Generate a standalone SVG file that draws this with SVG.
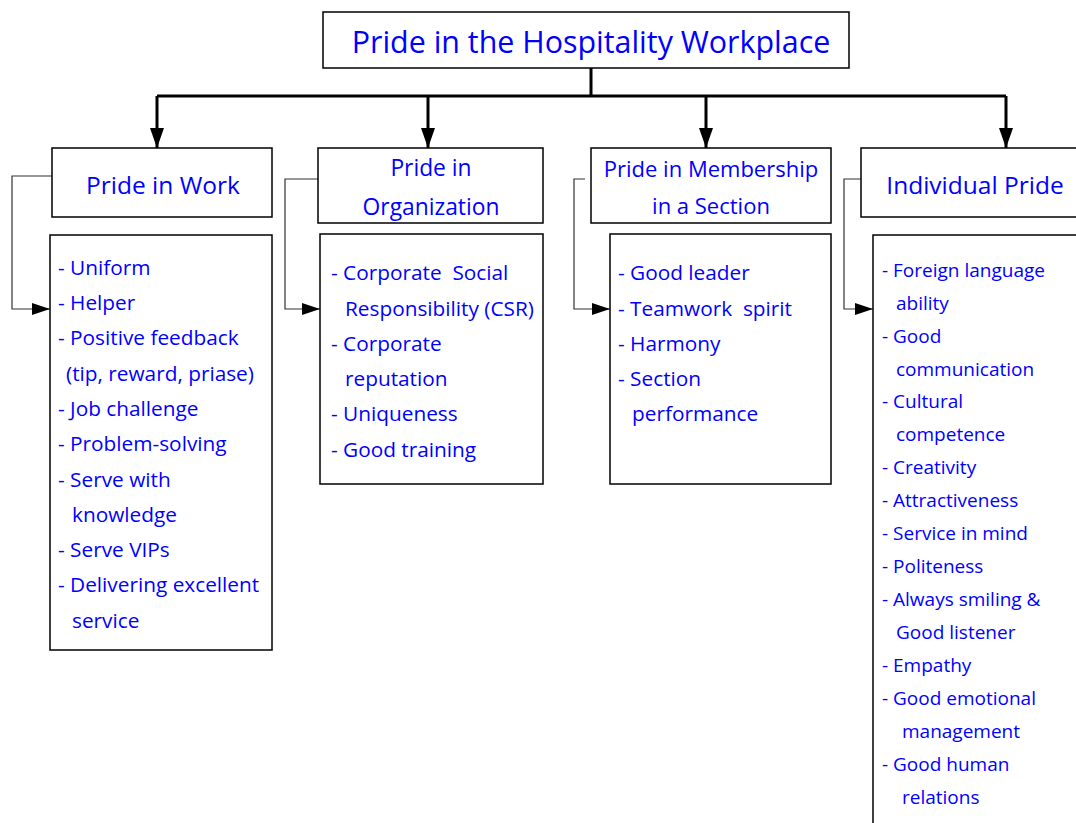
<svg xmlns="http://www.w3.org/2000/svg" width="1076" height="823" viewBox="0 0 1076 823">
<defs>
<marker id="bigArrow" markerUnits="userSpaceOnUse" markerWidth="20" markerHeight="14" refX="20" refY="7" orient="auto"><path d="M0,0 L20,7 L0,14 Z" fill="#000"/></marker>
<marker id="sideArrow" markerUnits="userSpaceOnUse" markerWidth="18" markerHeight="12" refX="18" refY="6" orient="auto"><path d="M0,0 L18,6 L0,12 Z" fill="#000"/></marker>
</defs>
<style>
.box{fill:#fff;stroke:#000;stroke-width:1.5}
.t{font-family:"Open Sans","Noto Sans",sans-serif;fill:#0000ff}
.title{font-size:30.4px}
.hd{font-size:24.5px}
.hd2{font-size:22.8px}
.hd3{font-size:22px}
.li{font-size:20.8px}
.lis{font-size:19px}
.main{stroke:#000;stroke-width:3;fill:none}
.side{stroke:#333;stroke-width:1.2;fill:none}
</style>
<rect width="1076" height="823" fill="#fff"/>
<g id="connectors">
<path class="main" d="M591,68 V97"/>
<path class="main" d="M157,96 H1006"/>
<path class="main" d="M157,96 V148" marker-end="url(#bigArrow)"/>
<path class="main" d="M428,96 V148" marker-end="url(#bigArrow)"/>
<path class="main" d="M706,96 V148" marker-end="url(#bigArrow)"/>
<path class="main" d="M1006,96 V148" marker-end="url(#bigArrow)"/>
<path class="side" d="M52,176 H12 V309 H50" marker-end="url(#sideArrow)"/>
<path class="side" d="M318,179 H285 V309 H320" marker-end="url(#sideArrow)"/>
<path class="side" d="M585,179 H574 V309 H610" marker-end="url(#sideArrow)"/>
<path class="side" d="M861,179 H844 V309 H873" marker-end="url(#sideArrow)"/>
</g>
<g id="root">
<rect class="box" x="323" y="12" width="526" height="56"/>
<text class="t title" x="591" y="53" text-anchor="middle">Pride in the Hospitality Workplace</text>
</g>
<g id="work">
<rect class="box" x="52" y="148" width="220" height="69"/>
<text class="t hd" x="163" y="194" text-anchor="middle">Pride in Work</text>
</g>
<g id="work-list">
<rect class="box" x="50" y="235" width="222" height="415"/>
<text class="t li" x="58" y="275">- Uniform</text>
<text class="t li" x="58" y="310">- Helper</text>
<text class="t li" x="58" y="345">- Positive feedback</text>
<text class="t li" x="66" y="381">(tip, reward, priase)</text>
<text class="t li" x="58" y="416">- Job challenge</text>
<text class="t li" x="58" y="451">- Problem-solving</text>
<text class="t li" x="58" y="487">- Serve with</text>
<text class="t li" x="72" y="522">knowledge</text>
<text class="t li" x="58" y="557">- Serve VIPs</text>
<text class="t li" x="58" y="592">- Delivering excellent</text>
<text class="t li" x="72" y="628">service</text>
</g>
<g id="org">
<rect class="box" x="318" y="148" width="225" height="75"/>
<text class="t hd2" x="431" y="176" text-anchor="middle">Pride in</text>
<text class="t hd2" x="431" y="215" text-anchor="middle">Organization</text>
</g>
<g id="org-list">
<rect class="box" x="320" y="234" width="223" height="250"/>
<text class="t li" x="331" y="280" xml:space="preserve">- Corporate  Social</text>
<text class="t li" x="345" y="316">Responsibility (CSR)</text>
<text class="t li" x="331" y="351">- Corporate</text>
<text class="t li" x="345" y="386">reputation</text>
<text class="t li" x="331" y="421">- Uniqueness</text>
<text class="t li" x="331" y="457">- Good training</text>
</g>
<g id="member">
<rect class="box" x="591" y="148" width="240" height="75"/>
<text class="t hd3" x="711" y="177" text-anchor="middle">Pride in Membership</text>
<text class="t hd3" x="711" y="214" text-anchor="middle">in a Section</text>
</g>
<g id="member-list">
<rect class="box" x="610" y="234" width="221" height="250"/>
<text class="t li" x="618" y="280">- Good leader</text>
<text class="t li" x="618" y="316" xml:space="preserve">- Teamwork  spirit</text>
<text class="t li" x="618" y="351">- Harmony</text>
<text class="t li" x="618" y="386">- Section</text>
<text class="t li" x="632" y="421">performance</text>
</g>
<g id="individual">
<rect class="box" x="861" y="148" width="230" height="69"/>
<text class="t hd" x="975" y="194" text-anchor="middle">Individual Pride</text>
</g>
<g id="individual-list">
<rect class="box" x="873" y="235" width="220" height="620"/>
<text class="t lis" x="882" y="277">- Foreign language</text>
<text class="t lis" x="896" y="310">ability</text>
<text class="t lis" x="882" y="343">- Good</text>
<text class="t lis" x="896" y="376">communication</text>
<text class="t lis" x="882" y="408">- Cultural</text>
<text class="t lis" x="896" y="441">competence</text>
<text class="t lis" x="882" y="474">- Creativity</text>
<text class="t lis" x="882" y="507">- Attractiveness</text>
<text class="t lis" x="882" y="540">- Service in mind</text>
<text class="t lis" x="882" y="573">- Politeness</text>
<text class="t lis" x="882" y="606">- Always smiling &amp;</text>
<text class="t lis" x="896" y="639">Good listener</text>
<text class="t lis" x="882" y="672">- Empathy</text>
<text class="t lis" x="882" y="705">- Good emotional</text>
<text class="t lis" x="902" y="738">management</text>
<text class="t lis" x="882" y="771">- Good human</text>
<text class="t lis" x="902" y="804">relations</text>
</g>
</svg>
